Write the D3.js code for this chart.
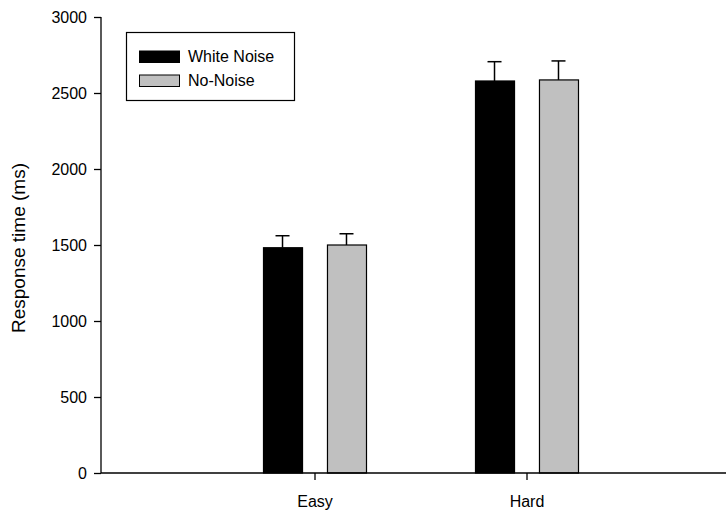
<!DOCTYPE html>
<html><head><meta charset="utf-8">
<script src="https://cdn.jsdelivr.net/npm/d3@7"></script>
<style>body{margin:0;background:#fff}svg{display:block}text{font-family:"Liberation Sans",Arial,sans-serif}</style>
</head><body><svg id="c" width="726" height="510"></svg>
<script>
const categories = ["Easy", "Hard"];
const seriesNames = ["White Noise", "No-Noise"];
const whiteNoise = [1482, 2579];
const noNoise = [1500, 2586];
const whiteNoiseErr = [79, 127];
const noNoiseErr = [74, 125];
const yTicks = [0, 500, 1000, 1500, 2000, 2500, 3000];
const colors = ["#000000", "#c0c0c0"];

const svg = d3.select("#c");
const x0 = 101, yTop = 17, yBot = 473;
const x = d3.scaleBand().domain(categories).range([103, 739]).paddingInner(0).paddingOuter(0.5);
const xs = d3.scaleBand().domain(seriesNames).range([54, 157]).paddingInner(0.39).paddingOuter(0);
const y = d3.scaleLinear().domain([0, 3000]).range([yBot, yTop]);

const data = categories.map((c, i) => ({c, vals: [
  {s: seriesNames[0], v: whiteNoise[i], e: whiteNoiseErr[i], col: colors[0]},
  {s: seriesNames[1], v: noNoise[i], e: noNoiseErr[i], col: colors[1]}]}));

const g = svg.selectAll("g.cat").data(data).join("g").attr("class","cat")
  .attr("transform", d => `translate(${x(d.c)},0)`);
// error bars
g.selectAll("g.err").data(d => d.vals).join("g").attr("class","err").each(function(d){
  const cx = xs(d.s) + xs.bandwidth()/2;
  const s = d3.select(this);
  s.append("line").attr("x1",cx).attr("x2",cx).attr("y1",y(d.v)).attr("y2",y(d.v+d.e)).attr("stroke","#000").attr("stroke-width",1.5);
  s.append("line").attr("x1",cx-7).attr("x2",cx+7).attr("y1",y(d.v+d.e)).attr("y2",y(d.v+d.e)).attr("stroke","#000").attr("stroke-width",1.5);
});
g.selectAll("rect").data(d => d.vals).join("rect")
  .attr("x", d => xs(d.s)+0.5).attr("width", xs.bandwidth())
  .attr("y", d => y(d.v)).attr("height", d => y(0)-y(d.v))
  .attr("fill", d => d.col).attr("stroke","#000").attr("stroke-width",1.2);

// y axis
const ya = svg.append("g").attr("transform",`translate(${x0},0)`)
  .call(d3.axisLeft(y).tickValues(yTicks).tickSize(7).tickPadding(7).tickFormat(d3.format("d")));
ya.select(".domain").attr("d", `M-0,${yTop}V${yBot}`).attr("stroke-width",1.3);
ya.selectAll("text").attr("font-size",16).attr("fill","#000").attr("font-family","Liberation Sans, Arial, sans-serif");
ya.selectAll(".tick line").attr("stroke-width",1.3);

// x axis
const xa = svg.append("g").attr("transform",`translate(0,${yBot})`)
  .call(d3.axisBottom(x).tickSize(7).tickPadding(16));
xa.select(".domain").attr("d", `M${x0},0H739`).attr("stroke-width",1.5);
xa.selectAll("text").attr("font-size",16).attr("fill","#000").attr("font-family","Liberation Sans, Arial, sans-serif");
xa.selectAll(".tick line").attr("stroke-width",1.3);

// y title
svg.append("text").attr("transform","translate(25,248) rotate(-90)").attr("text-anchor","middle")
  .attr("font-size",19).text("Response time (ms)");

// legend
const lg = svg.append("g");
lg.append("rect").attr("x",126.5).attr("y",32.5).attr("width",168).attr("height",68).attr("fill","#fff").attr("stroke","#000").attr("stroke-width",1.2);
seriesNames.forEach((s,i) => {
  lg.append("rect").attr("x",139.5).attr("y",51+i*24).attr("width",40).attr("height",11.5).attr("fill",colors[i]).attr("stroke","#000").attr("stroke-width",1);
  lg.append("text").attr("x",188).attr("y",62+i*24).attr("font-size",16).text(s);
});
</script></body></html>
